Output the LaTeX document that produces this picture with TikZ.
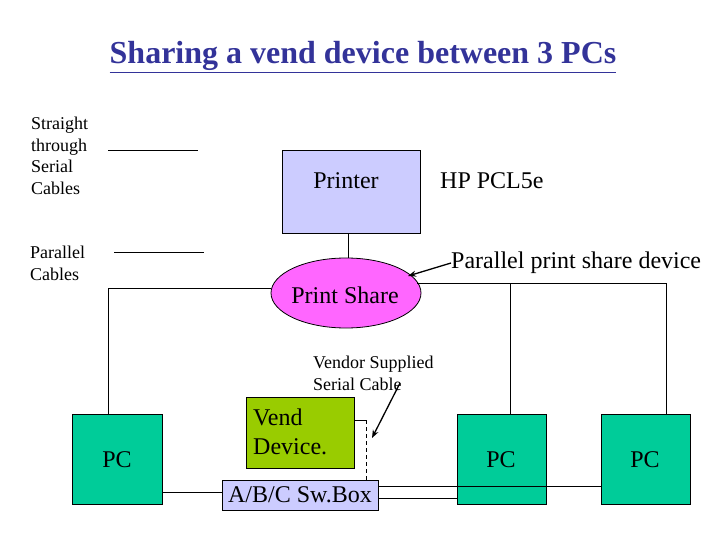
\documentclass[tikz,border=0pt]{standalone}
\usepackage{fontspec}
\setmainfont{Liberation Serif}
\usetikzlibrary{arrows.meta,shapes.geometric}
\definecolor{titleblue}{HTML}{333399}
\definecolor{lav}{HTML}{CCCCFF}
\definecolor{mag}{HTML}{FF66FF}
\definecolor{pcgreen}{HTML}{00CC99}
\definecolor{vendgreen}{HTML}{99CC00}
\tikzset{
  box/.style={draw=black, line width=0.8pt, inner sep=0pt, anchor=north west},
  big/.style={font=\fontsize{24}{28}\selectfont},
  small/.style={font=\fontsize{18}{21.5}\selectfont, align=left, anchor=north west, inner sep=0pt},
  wire/.style={line width=0.8pt},
  pointer/.style={line width=1.3pt, -{Stealth[length=8pt,width=6pt]}}
}
\begin{document}
\begin{tikzpicture}[x=1pt,y=-1pt]
\useasboundingbox (0,0) rectangle (720,540);
% title
\node[font=\bfseries\fontsize{32}{36}\selectfont, text=titleblue, inner sep=0pt] (title) at (363,57) {\underline{Sharing a vend device between 3 PCs}};
% legend
\node[small] (lg1) at (31,117) {Straight\\through\\Serial\\Cables};
\coordinate (l1a) at (108,150); \coordinate (l1b) at (198,150);
\draw[wire] (l1a) -- (l1b);
\node[small] (lg2) at (30,246) {Parallel\\Cables};
\coordinate (l2a) at (114,252); \coordinate (l2b) at (204,252);
\draw[wire] (l2a) -- (l2b);
% printer
\node[box, fill=lav, minimum width=138pt, minimum height=83pt] (printer) at (282,150) {};
\node[big] at (346,181) {Printer};
\node[big, anchor=west, inner sep=0pt] (hp) at (440,181) {HP PCL5e};
% print share
\node[draw=black, line width=0.8pt, ellipse, fill=mag, minimum width=150pt, minimum height=70pt, inner sep=0pt] (ps) at (346,293) {};
\node[big] at (345,295) {Print Share};
\draw[wire] ([xshift=-3pt]printer.south) -- ([xshift=-3pt]printer.south |- ps.north);
\node[big, anchor=west, inner sep=0pt] (ppsd) at (451,263) {Parallel print share device};
\draw[pointer] (ppsd.west) -- (408,276);
% PCs
\node[box, fill=pcgreen, minimum width=90pt, minimum height=90pt] (pc1) at (72,414) {};
\node[big] at (117,460) {PC};
\node[box, fill=pcgreen, minimum width=89pt, minimum height=90pt] (pc2) at (457,414) {};
\node[big] at (501,460) {PC};
\node[box, fill=pcgreen, minimum width=89pt, minimum height=90pt] (pc3) at (601,414) {};
\node[big] at (645,460) {PC};
% parallel cables to PCs
\coordinate (lc) at (108,288);
\coordinate (rc1) at (510,283);
\coordinate (rc2) at (666,283);
\draw[wire] (ps.west |- lc) -- (lc) -- (lc |- pc1.north);
\draw[wire] (417,283) -- (rc2) -- (rc2 |- pc3.north);
\draw[wire] (rc1) -- (rc1 |- pc2.north);
% vend device
\node[box, fill=vendgreen, minimum width=108pt, minimum height=71pt] (vend) at (246,397) {};
\node[align=left, anchor=north west, inner sep=0pt, font=\fontsize{24}{29}\selectfont] (vtxt) at (253,409) {Vend\\Device.};
% switch box
\node[box, fill=lav, minimum width=156pt, minimum height=30pt] (sw) at (222,480) {};
\node[big] at (300,495) {A/B/C Sw.Box};
% serial cables
\draw[wire] (pc1.east |- 0,492) -- (sw.west |- 0,492);
\draw[wire] (sw.east |- 0,486) -- (pc3.west |- 0,486);
\draw[wire] (sw.east |- 0,498) -- (pc2.west |- 0,498);
% vendor cable
\coordinate (vc) at (366,420);
\draw[wire] (vend.east |- vc) -- (vc);
\draw[wire, dashed, dash pattern=on 4pt off 3pt] (vc) -- (vc |- sw.north);
\node[small] (vs) at (313,356) {Vendor Supplied\\Serial Cable};
\draw[pointer] (400,383) -- (372,438);
\end{tikzpicture}
\end{document}
